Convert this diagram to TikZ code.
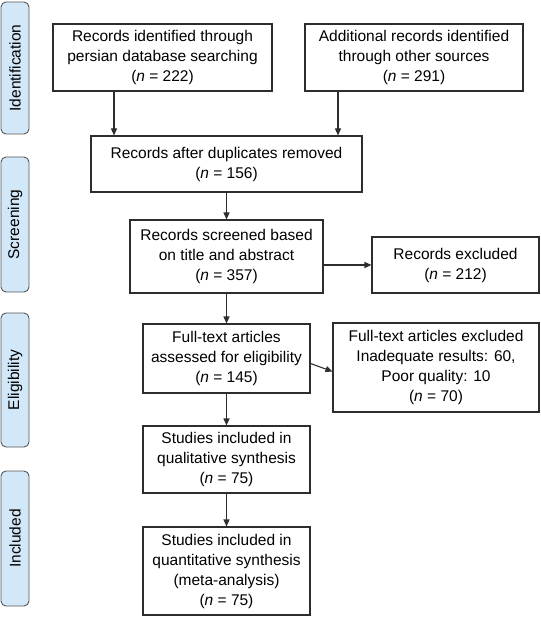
\documentclass[tikz,border=0pt]{standalone}
\usepackage{fontspec}
\setmainfont{Liberation Sans}
\usepackage{tikz}
\usetikzlibrary{arrows.meta}
\definecolor{sidefill}{RGB}{210,232,248}
\definecolor{sidedraw}{RGB}{85,85,85}
\definecolor{ln}{RGB}{45,45,45}
\tikzset{bx/.style={draw=ln,line width=1.1pt,align=center,inner sep=2pt,
           font=\fontsize{15.5}{20}\selectfont},
         side/.style={draw=sidedraw,fill=sidefill,rounded corners=5pt,line width=0.9pt,
           rotate=90,inner sep=0pt,font=\fontsize{15.5}{20}\selectfont},
         arr/.style={draw=ln,line width=1.1pt,-{Triangle[length=7pt,width=6pt]}}
         }

\begin{document}
\begin{tikzpicture}[x=1pt,y=-1pt]
        \useasboundingbox (0,0) rectangle (540,617);

        % stage labels
        \node[side, minimum width=132, minimum height=28] (S1) at (15,68) {Identification};
        \node[side, minimum width=135, minimum height=28] (S2) at (15,224.5) {Screening};
        \node[side, minimum width=134, minimum height=28] (S3) at (15,380) {Eligibility};
        \node[side, minimum width=135, minimum height=28] (S4) at (15,538.5) {Included};

        % boxes
        \node[bx, minimum width=219, minimum height=67] (id1) at (162.5,57.5)
          {Records identified through\\persian database searching\\(\textit{n} = 222)};
        \node[bx, minimum width=218, minimum height=67] (id2) at (414,57.5)
          {Additional records identified\\through other sources\\(\textit{n} = 291)};
        \node[bx, minimum width=271, minimum height=56] (dup) at (226.5,164)
          {Records after duplicates removed\\(\textit{n} = 156)};
        \node[bx, minimum width=193, minimum height=73] (scr) at (226.5,256.5)
          {Records screened based\\on title and abstract\\(\textit{n} = 357)};
        \node[bx, minimum width=167, minimum height=56] (rex) at (455.5,265)
          {Records excluded\\(\textit{n} = 212)};
        \node[bx, minimum width=167, minimum height=69] (ft) at (226.5,358.5)
          {Full-text articles\\assessed for eligibility\\(\textit{n} = 145)};
        \node[bx, minimum width=206, minimum height=89] (ftx) at (436,367.5)
          {Full-text articles excluded\\Inadequate results: 60,\\Poor quality: 10\\(\textit{n} = 70)};
        \node[bx, minimum width=167, minimum height=67] (qual) at (226.5,459.5)
          {Studies included in\\qualitative synthesis\\(\textit{n} = 75)};
        \node[bx, minimum width=167, minimum height=88] (quan) at (226.5,571)
          {Studies included in\\quantitative synthesis\\(meta-analysis)\\(\textit{n} = 75)};

        % arrows
        \coordinate (a1) at ([xshift=-48.5pt]id1.south);
        \coordinate (a2) at ([xshift=-76pt]id2.south);
        \draw[arr] (a1) -- (a1 |- dup.north);
        \draw[arr] (a2) -- (a2 |- dup.north);
        \draw[arr] (dup) -- (scr);
        \draw[arr] (scr.east |- rex.west) -- (rex.west);
        \draw[arr] (scr) -- (ft);
        \draw[arr] ([yshift=-5pt]ft.east) -- ([yshift=-4pt]ftx.west);
        \draw[arr] (ft) -- (qual);
        \draw[arr] (qual) -- (quan);
\end{tikzpicture}
\end{document}
